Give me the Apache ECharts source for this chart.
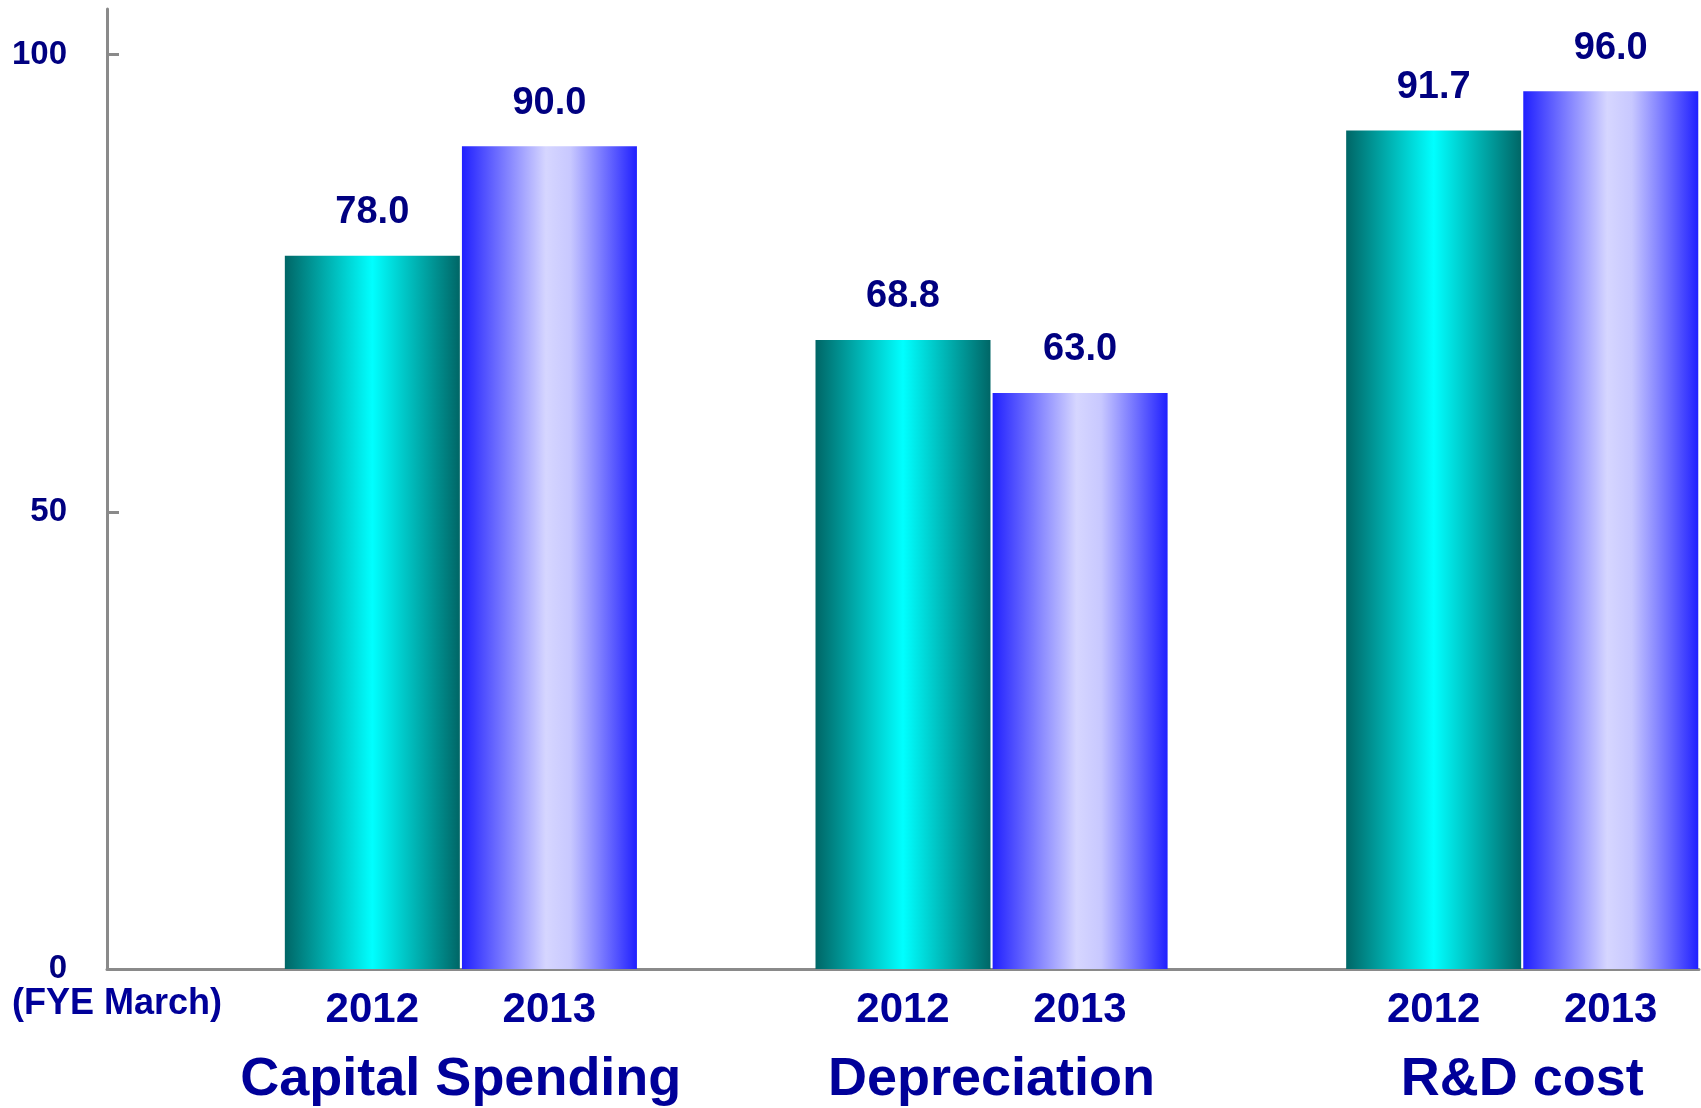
<!DOCTYPE html>
<html>
<head>
<meta charset="utf-8">
<script src="https://cdn.jsdelivr.net/npm/echarts@6/dist/echarts.min.js"></script>
<style>
  html, body { margin: 0; padding: 0; background: #fff; }
  #chart { width: 1701px; height: 1108px; }
</style>
</head>
<body>
<div id="chart"></div>
<script>
const categories = ['Capital Spending', 'Depreciation', 'R&D cost'];
const years = ['2012', '2013'];
const values2012 = [78.0, 68.8, 91.7];
const values2013 = [90.0, 63.0, 96.0];
const yLabels = [0, 50, 100];
const yTicks = [50, 100];

const font = '"Liberation Sans", Arial, sans-serif';
const navy = '#000080';
const blue = '#000099';

const tealGrad = new echarts.graphic.LinearGradient(0, 0, 1, 0, [
  {offset: 0, color: '#006666'},
  {offset: 0.5, color: '#00ffff'},
  {offset: 1, color: '#006666'}
]);
const blueGrad = new echarts.graphic.LinearGradient(0, 0, 1, 0, [
  {offset: 0, color: '#2020ff'},
  {offset: 0.48, color: '#d6d6ff'},
  {offset: 0.62, color: '#c8c8ff'},
  {offset: 1, color: '#2020ff'}
]);

const valueLabel = {
  show: true,
  position: 'top',
  distance: 24,
  color: navy,
  fontFamily: font,
  fontSize: 38,
  fontWeight: 'bold',
  formatter: (p) => p.value.toFixed(1)
};

const chart = echarts.init(document.getElementById('chart'), null, {renderer: 'canvas'});

const opt = {
  animation: false,
  grid: {left: 107, right: 2, top: 9, bottom: 139, containLabel: false, outerBoundsMode: 'none'},
  xAxis: {
    type: 'category',
    data: categories,
    axisLine: {lineStyle: {color: '#8a8a8a', width: 3}},
    axisTick: {show: false},
    axisLabel: {
      interval: 0,
      margin: 16,
      fontFamily: font,
      formatter: (name) => `{sp| }{yr|${years[0]}}{yr|${years[1]}}\n{pad| }{cat|${name}}`,
      rich: {
        sp: {width: 177, lineHeight: 50},
        yr: {width: 177, align: 'center', fontFamily: font, fontSize: 42, fontWeight: 'bold', color: blue, lineHeight: 50},
        pad: {width: 177, lineHeight: 90},
        cat: {fontFamily: font, fontSize: 54, fontWeight: 'bold', color: blue, lineHeight: 90}
      }
    }
  },
  yAxis: {
    type: 'value',
    min: 0,
    max: 105,
    interval: 50,
    name: '(FYE March)',
    nameLocation: 'start',
    nameGap: 17,
    nameMoveOverlap: false,
    nameTextStyle: {
      color: blue, fontFamily: font, fontSize: 36, fontWeight: 'bold',
      padding: [0, 0, 0, 20]
    },
    splitLine: {show: false},
    axisLine: {show: true, lineStyle: {color: '#8a8a8a', width: 3}},
    axisTick: {show: true, inside: true, length: 12, customValues: yTicks,
      lineStyle: {color: '#8a8a8a', width: 3}},
    axisLabel: {
      customValues: yLabels,
      margin: 40,
      color: navy,
      fontFamily: font,
      fontSize: 33,
      fontWeight: 'bold'
    }
  },
  series: [
    {
      // empty slot that pushes each bar pair right of its category centre
      name: 'spacer',
      type: 'bar',
      data: [],
      barWidth: 175,
      barGap: '1.2%',
      silent: true
    },
    {
      name: years[0],
      type: 'bar',
      data: values2012,
      barWidth: 175,
      barGap: '1.2%',
      itemStyle: {color: tealGrad},
      label: valueLabel
    },
    {
      name: years[1],
      type: 'bar',
      data: values2013,
      barWidth: 175,
      barGap: '1.2%',
      itemStyle: {color: blueGrad},
      label: valueLabel
    }
  ]
};

chart.setOption(opt);
</script>
</body>
</html>
